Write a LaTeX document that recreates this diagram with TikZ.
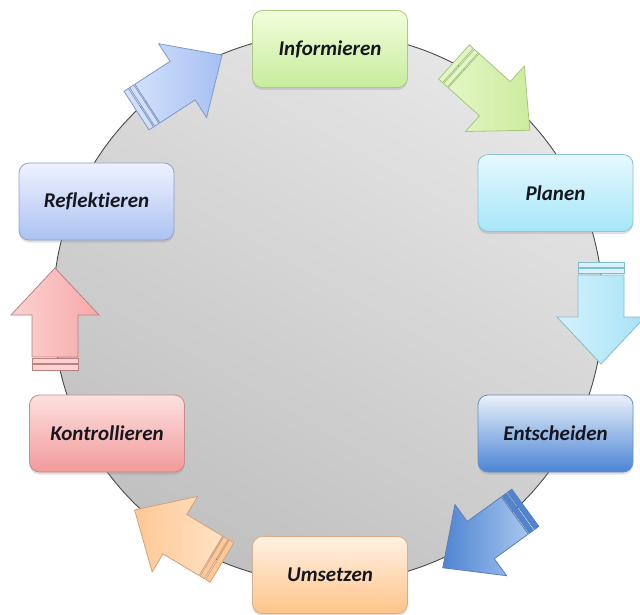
\documentclass[tikz,border=0pt]{standalone}
\usepackage{fontspec}
\setmainfont{Carlito}[Ligatures={NoCommon}]
\usetikzlibrary{shadows}
\definecolor{txt}{HTML}{16161F}
\definecolor{circA}{HTML}{E6E6E6}
\definecolor{circB}{HTML}{C0C0C0}
\definecolor{circD}{HTML}{4A4A4A}
% boxes
\definecolor{grA}{HTML}{F3FDDC}\definecolor{grB}{HTML}{C6EC9C}\definecolor{grD}{HTML}{AACC82}
\definecolor{cyA}{HTML}{E6F8FE}\definecolor{cyB}{HTML}{A6E6F8}\definecolor{cyD}{HTML}{8EC4D4}
\definecolor{blA}{HTML}{EAF1FB}\definecolor{blB}{HTML}{4A84D4}\definecolor{blD}{HTML}{6A8EBE}
\definecolor{orA}{HTML}{FFF1E3}\definecolor{orB}{HTML}{FFC48A}\definecolor{orD}{HTML}{D8AE8A}
\definecolor{rdA}{HTML}{FDE0E0}\definecolor{rdB}{HTML}{F29A9A}\definecolor{rdD}{HTML}{C88A8A}
\definecolor{lvA}{HTML}{EEF2FE}\definecolor{lvB}{HTML}{ACC2F2}\definecolor{lvD}{HTML}{8EA2CA}
% arrows
\definecolor{agA}{HTML}{E2F6C4}\definecolor{agB}{HTML}{CCEC9E}\definecolor{agD}{HTML}{A6C67E}
\definecolor{acA}{HTML}{D4F2FC}\definecolor{acB}{HTML}{A8E2F6}\definecolor{acD}{HTML}{84BCCE}
\definecolor{abA}{HTML}{A8C6EE}\definecolor{abB}{HTML}{4E84D2}\definecolor{abD}{HTML}{5C80B4}
\definecolor{aoA}{HTML}{FFE2C4}\definecolor{aoB}{HTML}{FFC896}\definecolor{aoD}{HTML}{D2A27C}
\definecolor{arA}{HTML}{FCD2D2}\definecolor{arB}{HTML}{F8A8A8}\definecolor{arD}{HTML}{BC8080}
\definecolor{alA}{HTML}{D2E0FC}\definecolor{alB}{HTML}{A6C0F2}\definecolor{alD}{HTML}{8098C8}
\tikzset{
  stage/.style={rounded corners=10pt, minimum width=155pt, minimum height=77pt,
    line width=0.8pt, font=\fontsize{21}{24}\selectfont\bfseries\itshape, text=txt,
    drop shadow={opacity=0.25, shadow xshift=0pt, shadow yshift=-2.5pt}},
}
\newcommand\blockarr[6]{%
  \begin{scope}[shift={(#1,#2)},rotate=#3]
    \draw[draw=#6, line width=0.8pt, left color=#4, right color=#5, line join=miter]
      (13,-23) -- (55,-23) -- (55,-44) -- (102,0) -- (55,44) -- (55,23) -- (13,23) -- cycle;
    \draw[draw=#6, line width=0.8pt, fill=#4] (6.7,-23) rectangle (11.8,23);
    \draw[draw=#6, line width=0.8pt, fill=#4] (0,-23) rectangle (5.3,23);
  \end{scope}}
\begin{document}
\begin{tikzpicture}[x=1pt,y=1pt]
  \useasboundingbox[fill=white] (0,0) rectangle (640,-615);
  % circle
  \draw[draw=circD, line width=0.9pt, top color=circA, bottom color=circB, shading angle=-30]
    (328,-308) circle (275);
  % arrows
  \blockarr{136.5}{-110.6}{33}{alA}{alB}{alD}
  \blockarr{454}{-62}{-42}{agA}{agB}{agD}
  \blockarr{601}{-262}{-90}{acA}{acB}{acD}
  \blockarr{525.3}{-507.8}{216}{abB}{abA}{abD}
  \blockarr{222}{-562.5}{149}{aoB}{aoA}{aoD}
  \blockarr{55}{-370}{90}{arA}{arB}{arD}
  % boxes
  \node[stage, top color=grA, bottom color=grB, draw=grD] (inf) at (330,-49) {Informieren};
  \node[stage, top color=cyA, bottom color=cyB, draw=cyD] (pla) at (555.5,-193) {Planen};
  \node[stage, top color=blA, bottom color=blB, draw=blD] (ent) at (555.5,-433.5) {Entscheiden};
  \node[stage, top color=orA, bottom color=orB, draw=orD] (ums) at (330,-575) {Umsetzen};
  \node[stage, top color=rdA, bottom color=rdB, draw=rdD] (kon) at (107,-433.5) {Kontrollieren};
  \node[stage, top color=lvA, bottom color=lvB, draw=lvD] (ref) at (96.5,-201.5) {Reflektieren};
\end{tikzpicture}
\end{document}
